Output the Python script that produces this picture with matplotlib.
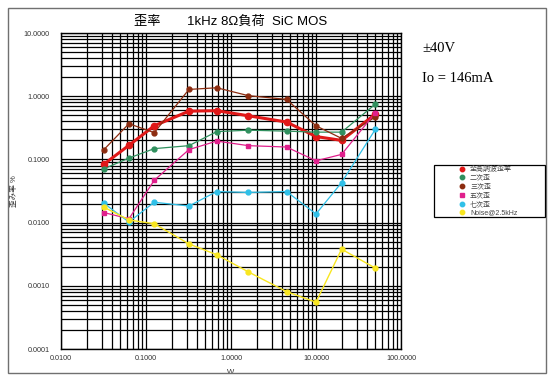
import matplotlib
matplotlib.use('Agg')
import matplotlib.pyplot as plt
from matplotlib.ticker import LogLocator, FixedLocator, NullFormatter
from matplotlib.patches import Rectangle

plt.rcParams['font.family'] = ['Liberation Sans', 'Noto Sans CJK JP', 'DejaVu Sans']

# output power (W)
watts = [0.032, 0.063, 0.125, 0.32, 0.68, 1.6, 4.5, 10, 20, 50]

# distortion (%)
thd = [0.084, 0.167, 0.34, 0.58, 0.59, 0.49, 0.39, 0.23, 0.20, 0.52]
h2 = [0.071, 0.105, 0.148, 0.165, 0.275, 0.29, 0.28, 0.27, 0.27, 0.75]
h3 = [0.143, 0.367, 0.265, 1.28, 1.36, 1.02, 0.89, 0.34, 0.215, 0.47]
h5 = [0.0144, 0.0115, 0.0467, 0.143, 0.195, 0.165, 0.157, 0.095, 0.12, 0.55]
h7 = [0.0202, 0.0102, 0.021, 0.0183, 0.031, 0.030, 0.031, 0.0137, 0.043, 0.30]
noise = [0.0175, 0.011, 0.0096, 0.0046, 0.0031, 0.00166, 0.00081, 0.00055, 0.0038, 0.0019]

series = [
    ('全高調波歪率', thd, '#e01818', 'o', 2.2, 4.5),
    ('二次歪', h2, '#30905e', 'o', 0.9, 3.5),
    ('三次歪', h3, '#8c2c10', 'o', 0.9, 3.5),
    ('五次歪', h5, '#e0208c', 's', 0.9, 3.5),
    ('七次歪', h7, '#30c0e8', 'o', 0.9, 3.5),
    ('Noise@2.5kHz', noise, '#f8e620', 'o', 1.0, 3.5),
]

x_ticks = [0.01, 0.1, 1, 10, 100]
y_ticks = [0.0001, 0.001, 0.01, 0.1, 1, 10]

fig = plt.figure(figsize=(5.57, 3.87), dpi=100)
fig.patch.set_facecolor('white')
fig.add_artist(Rectangle((8 / 557, 1 - 373 / 387), 538 / 557, 365 / 387,
                         transform=fig.transFigure, fill=False,
                         edgecolor='#707070', linewidth=1.0))

ax = fig.add_axes([61 / 557, 1 - 349 / 387, 340 / 557, 316 / 387])
handles = []
for name, vals, color, marker, lw, ms in series:
    ax.plot(watts, vals, color=color, linewidth=lw, zorder=3)
    ax.plot(watts, vals, linestyle='none', marker=marker, markersize=ms,
            color=color, zorder=4)
    h, = ax.plot([], [], linestyle='none', marker=marker, markersize=3.2,
                 color=color, label=name)
    handles.append(h)

ax.set_xscale('log')
ax.set_yscale('log')
ax.set_xlim(0.01, 100)
ax.set_ylim(0.0001, 10)
ax.xaxis.set_major_locator(FixedLocator(x_ticks))
ax.yaxis.set_major_locator(FixedLocator(y_ticks))
ax.xaxis.set_minor_locator(LogLocator(base=10, subs=range(2, 10)))
ax.yaxis.set_minor_locator(LogLocator(base=10, subs=range(2, 10)))
ax.xaxis.set_minor_formatter(NullFormatter())
ax.yaxis.set_minor_formatter(NullFormatter())
ax.set_xticklabels([f'{v:.4f}' for v in x_ticks])
ax.set_yticklabels([f'{v:.4f}' for v in y_ticks])
ax.tick_params(which='both', length=0, labelsize=5.2, labelcolor='#333333')
ax.tick_params(axis='x', pad=4)
ax.tick_params(axis='y', pad=8)
ax.grid(True, which='both', color='black', linewidth=0.9)
for s in ax.spines.values():
    s.set_color('black')
    s.set_linewidth(1.0)

ax.set_xlabel('W', fontsize=5.5, color='#333333', labelpad=5)
ax.set_ylabel('歪み率 %', fontsize=5.5, color='#333333', labelpad=4)
ax.set_title('歪率　　1kHz 8Ω負荷  SiC MOS', fontsize=9.5, pad=6)

fig.text(422 / 557, 1 - 48 / 387, '±40V', family='Liberation Serif',
         fontsize=10.5, va='center')
fig.text(422 / 557, 1 - 79 / 387, 'Io = 146mA', family='Liberation Serif',
         fontsize=10.5, va='center')

# legend box spanning to the right frame
fig.add_artist(Rectangle((434 / 557, 1 - 217 / 387), 111 / 557, 52 / 387,
                         transform=fig.transFigure, fill=True,
                         facecolor='white', edgecolor='black',
                         linewidth=0.9, zorder=2))
leg = fig.legend(handles=handles, loc='upper left',
                 bbox_to_anchor=(459 / 557, 1 - 166 / 387),
                 fontsize=5, frameon=False, borderpad=0,
                 labelspacing=0.25, handletextpad=0.6, handlelength=1.0,
                 borderaxespad=0)
leg.set_zorder(3)
for t in leg.get_texts():
    t.set_color('#444444')

fig.savefig('out.png', dpi=100, facecolor='white')
